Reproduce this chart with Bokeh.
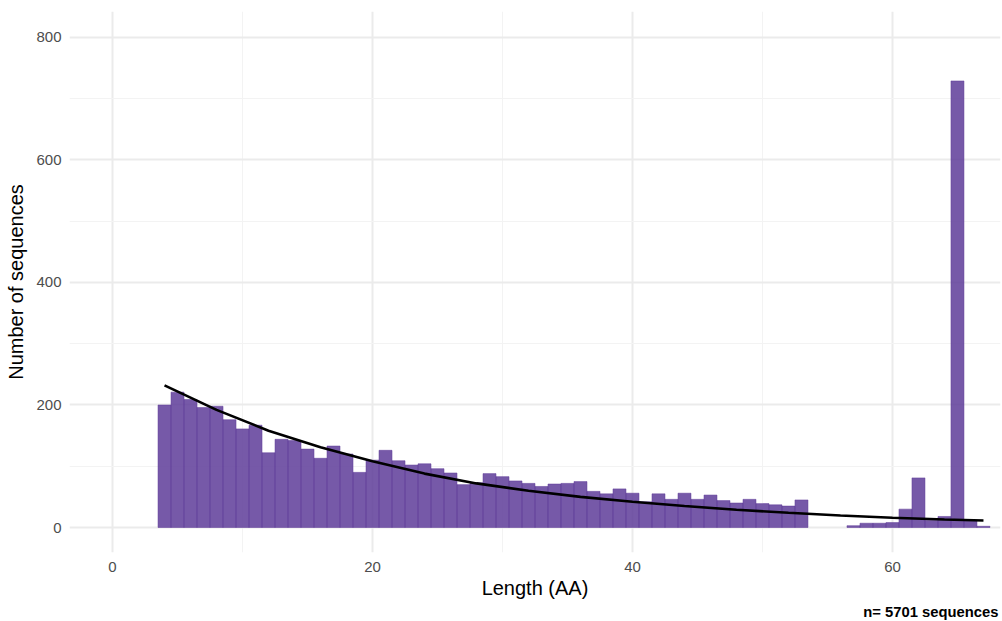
from bokeh.plotting import figure
from bokeh.models import FixedTicker, Title, ColumnDataSource, Range1d
from bokeh.embed import file_html
from bokeh.resources import INLINE

# ---- data ----
lengths = list(range(4, 68))
counts = [200, 221, 209, 196, 198, 176, 161, 167, 122, 144, 142, 128, 113, 133, 120, 90, 110,   # 4-20
          126, 109, 102, 104, 96, 89, 70, 73, 88, 83, 76, 72, 67, 71, 72, 75,                   # 21-36
          59, 55, 63, 56, 42, 55, 46, 56, 46, 53, 44, 40, 46, 39, 37, 35, 45,                   # 37-53
          0, 0, 0,                                                                              # 54-56
          3, 7, 7, 8, 30, 81, 12, 18, 729, 12, 2]                                               # 57-67

fit_x = [4, 8, 12, 16, 20, 24, 28, 32, 36, 40, 44, 48, 52, 56, 60, 64, 67]
fit_y = [232, 192, 158, 131, 108, 88, 72, 60, 50, 42, 35, 29, 24, 19.5, 16, 13, 11.4]

x_ticks = [0, 20, 40, 60]
x_minor = [10, 30, 50]
y_ticks = [0, 200, 400, 600, 800]
y_minor = [100, 300, 500, 700]

x_title = "Length (AA)"
y_title = "Number of sequences"
caption = "n= 5701 sequences"

# ---- figure ----
FONT = "Liberation Sans"
p = figure(width=1002, height=621, output_backend="svg", toolbar_location=None,
           x_range=Range1d(-3.31, 68.31), y_range=Range1d(-40.8, 842.4),
           min_border_left=69, min_border_right=2, min_border_top=11, min_border_bottom=69)
p.outline_line_color = None
p.background_fill_color = "white"
p.border_fill_color = "white"

# grid
p.xaxis.ticker = FixedTicker(ticks=x_ticks, minor_ticks=x_minor)
p.yaxis.ticker = FixedTicker(ticks=y_ticks, minor_ticks=y_minor)
for g in (p.xgrid, p.ygrid):
    g.grid_line_color = "#ebebeb"
    g.grid_line_width = 2
    g.minor_grid_line_color = "#f3f3f3"
    g.minor_grid_line_width = 1

# axes
for ax in (p.xaxis, p.yaxis):
    ax.axis_line_color = None
    ax.major_tick_line_color = None
    ax.minor_tick_line_color = None
    ax.major_tick_out = 0
    ax.minor_tick_out = 0
    ax.major_label_text_font = FONT
    ax.major_label_text_font_size = "15px"
    ax.major_label_text_color = "#4d4d4d"
    ax.axis_label_text_font = FONT
    ax.axis_label_text_font_size = "20px"
    ax.axis_label_text_font_style = "normal"
    ax.axis_label_text_color = "black"
p.xaxis.axis_label = x_title
p.yaxis.axis_label = y_title
p.xaxis.major_label_standoff = 9
p.yaxis.major_label_standoff = 8
p.xaxis.axis_label_standoff = 2
p.yaxis.axis_label_standoff = 6

# bars
bx = [l for l, c in zip(lengths, counts) if c > 0]
bt = [c for c in counts if c > 0]
src = ColumnDataSource(dict(x=bx, top=bt))
p.vbar(x="x", top="top", bottom=0, width=1, source=src,
       fill_color="#5E3C99", fill_alpha=0.85,
       line_color="#5E3C99", line_alpha=0.85, line_width=0.6)

# fitted curve
p.line(fit_x, fit_y, line_color="black", line_width=2.6)

# caption (below the x axis, right aligned)
p.add_layout(Title(text=caption, align="right", offset=2, standoff=0,
                   text_font=FONT, text_font_size="14.8px", text_font_style="bold",
                   text_color="black"), "below")

open("out.html", "w").write(file_html(p, INLINE))
